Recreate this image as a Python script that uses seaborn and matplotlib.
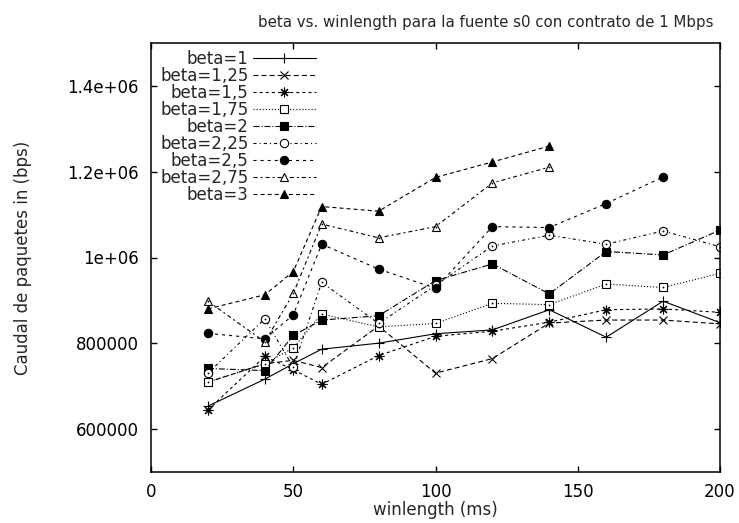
import matplotlib
matplotlib.use("Agg")
import matplotlib.pyplot as plt
from matplotlib.ticker import FuncFormatter
import pandas as pd
import seaborn as sns

# winlength values (ms) shared by all series
winlength = [20, 40, 50, 60, 80, 100, 120, 140, 160, 180, 200]

# Measured throughput (bps) for each beta
beta_1 = [653000, 716000, 752000, 786000, 800000, 822000, 831000, 878000, 814000, 898000, 848000]
beta_1_25 = [709000, 752000, 760000, 743000, 840000, 730000, 764000, 847000, 854000, 854000, 845000]
beta_1_5 = [644000, 769000, 738000, 704000, 771000, 816000, 828000, 849000, 878000, 880000, 872000]
beta_1_75 = [709000, 752000, 789000, 868000, 838000, 846000, 893000, 890000, 938000, 930000, 963000]
beta_2 = [741000, 736000, 818000, 854000, 864000, 946000, 985000, 915000, 1014000, 1006000, 1064000]
beta_2_25 = [730000, 857000, 744000, 942000, 846000, 935000, 1027000, 1052000, 1031000, 1062000, 1025000]
beta_2_5 = [823000, 810000, 866000, 1031000, 973000, 928000, 1072000, 1070000, 1126000, 1188000]
beta_2_75 = [898000, 803000, 916000, 1078000, 1046000, 1072000, 1174000, 1211000]
beta_3 = [880000, 913000, 967000, 1119000, 1108000, 1187000, 1223000, 1260000]

labels = ["beta=1", "beta=1,25", "beta=1,5", "beta=1,75", "beta=2",
          "beta=2,25", "beta=2,5", "beta=2,75", "beta=3"]
series = [beta_1, beta_1_25, beta_1_5, beta_1_75, beta_2,
          beta_2_25, beta_2_5, beta_2_75, beta_3]

y_ticks = [600000, 800000, 1000000, 1200000, 1400000]
x_ticks = [0, 50, 100, 150, 200]

# Line / marker look per series: (marker, open?, markersize, dash pattern)
styles = [
    ("+", False, 7.0, "-"),
    ("x", False, 6.0, (0, (3.6, 2.2))),
    ((8, 2, 0), False, 7.0, (0, (2.2, 2.2))),
    ("s", True, 6.0, (0, (0.8, 1.4))),
    ("s", False, 6.0, (0, (4.3, 1.4, 0.8, 1.4))),
    ("o", True, 6.0, (0, (2.2, 2.2, 0.8, 2.2))),
    ("o", False, 6.0, (0, (2.2, 2.9))),
    ("^", True, 6.2, (0, (2.9, 2.2, 1.4, 2.2))),
    ("^", False, 6.2, (0, (2.9, 2.2))),
]

frames = []
for lab, vals in zip(labels, series):
    frames.append(pd.DataFrame({"winlength": winlength[:len(vals)],
                                "caudal": vals, "beta": lab}))
data = pd.concat(frames, ignore_index=True)

sns.set_style("ticks")
plt.rcParams["font.family"] = ["DejaVu Sans"]
plt.rcParams["lines.scale_dashes"] = False

W, H = 739, 523
fig = plt.figure(figsize=(W / 100, H / 100), dpi=100)
ax = fig.add_axes([151 / W, 1 - 471.7 / H, 569 / W, 428.4 / H])

for lab, (mk, is_open, ms, ls) in zip(labels, styles):
    sub = data[data["beta"] == lab]
    sns.lineplot(data=sub, x="winlength", y="caudal", ax=ax, color="black",
                 linewidth=0.8, linestyle=ls, marker=mk, markersize=ms,
                 markerfacecolor="white" if is_open else "black",
                 markeredgecolor="black", markeredgewidth=0.8,
                 label=lab, legend=False)
    if is_open:
        # small centre dot inside hollow markers
        sns.lineplot(data=sub, x="winlength", y="caudal", ax=ax, color="black",
                     linestyle="none", marker="o", markersize=1.3,
                     markeredgewidth=0, markerfacecolor="black", legend=False)

ax.set_xlim(0, 200)
ax.set_ylim(500000, 1500000)
ax.set_xticks(x_ticks)
ax.set_yticks(y_ticks)
ax.yaxis.set_major_formatter(FuncFormatter(lambda v, p: "%g" % v))
ax.tick_params(axis="both", direction="in", length=4.5, width=1.0,
               top=True, right=True, labelsize=12, colors="black")
ax.tick_params(axis="y", pad=9)
ax.tick_params(axis="x", pad=8)
for sp in ax.spines.values():
    sp.set_linewidth(1.1)
    sp.set_color("black")

ax.set_xlabel("winlength (ms)", fontsize=12)
ax.set_ylabel("Caudal de paquetes in (bps)", fontsize=12)
ax.xaxis.label.set_va("center")
ax.yaxis.label.set_va("center")
ax.xaxis.set_label_coords(0.5, (471.7 - 510) / 428.4)
ax.yaxis.set_label_coords((23 - 151) / 569, 0.5)

fig.text(486 / W, 1 - 23 / H,
         "beta vs. winlength para la fuente s0 con contrato de 1 Mbps",
         ha="center", va="center", fontsize=10.8)

handles, labs = ax.get_legend_handles_labels()
ax.legend(handles, labs, loc="upper right",
          bbox_to_anchor=(316 / W, 1 - 49.5 / H), bbox_transform=fig.transFigure,
          markerfirst=False, frameon=False, borderpad=0, borderaxespad=0,
          handlelength=3.8, handletextpad=0.25, labelspacing=-0.055,
          fontsize=12)

fig.savefig("out.png", dpi=100)
